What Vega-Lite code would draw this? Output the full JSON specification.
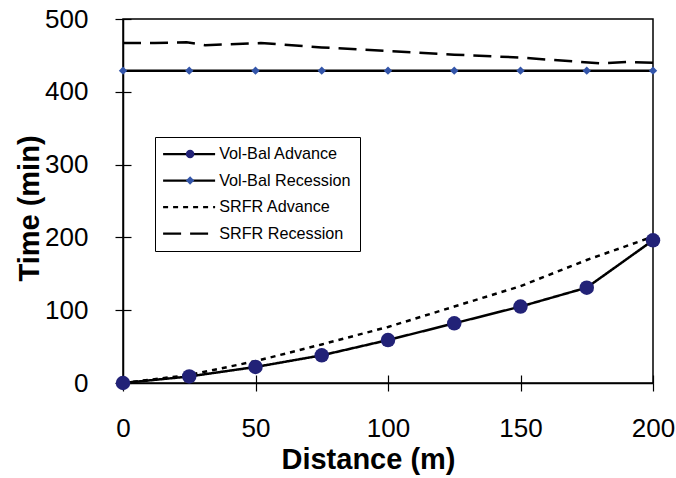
{
  "$schema": "https://vega.github.io/schema/vega-lite/v6.json",
  "width": 530,
  "height": 364,
  "autosize": "none",
  "padding": {"left": 123, "top": 19, "right": 23, "bottom": 95},
  "background": "white",
  "config": {
    "view": {"stroke": "black", "strokeWidth": 1.5},
    "font": "Liberation Sans",
    "axis": {"grid": false, "domainColor": "black", "tickColor": "black", "labelColor": "black", "titleColor": "black", "domainWidth": 1.5, "tickWidth": 1.2, "labelFlush": false}
  },
  "data": {
    "values": [
      {"series": "Vol-Bal Advance", "x": 0, "y": 0},
      {"series": "Vol-Bal Advance", "x": 25, "y": 9},
      {"series": "Vol-Bal Advance", "x": 50, "y": 22},
      {"series": "Vol-Bal Advance", "x": 75, "y": 38},
      {"series": "Vol-Bal Advance", "x": 100, "y": 59},
      {"series": "Vol-Bal Advance", "x": 125, "y": 82},
      {"series": "Vol-Bal Advance", "x": 150, "y": 105},
      {"series": "Vol-Bal Advance", "x": 175, "y": 131},
      {"series": "Vol-Bal Advance", "x": 200, "y": 196},
      {"series": "Vol-Bal Recession", "x": 0, "y": 429},
      {"series": "Vol-Bal Recession", "x": 25, "y": 429},
      {"series": "Vol-Bal Recession", "x": 50, "y": 429},
      {"series": "Vol-Bal Recession", "x": 75, "y": 429},
      {"series": "Vol-Bal Recession", "x": 100, "y": 429},
      {"series": "Vol-Bal Recession", "x": 125, "y": 429},
      {"series": "Vol-Bal Recession", "x": 150, "y": 429},
      {"series": "Vol-Bal Recession", "x": 175, "y": 429},
      {"series": "Vol-Bal Recession", "x": 200, "y": 429},
      {"series": "SRFR Advance", "x": 0, "y": 0},
      {"series": "SRFR Advance", "x": 25, "y": 11},
      {"series": "SRFR Advance", "x": 50, "y": 30},
      {"series": "SRFR Advance", "x": 75, "y": 53},
      {"series": "SRFR Advance", "x": 100, "y": 77},
      {"series": "SRFR Advance", "x": 125, "y": 105},
      {"series": "SRFR Advance", "x": 150, "y": 133},
      {"series": "SRFR Advance", "x": 175, "y": 169},
      {"series": "SRFR Advance", "x": 200, "y": 201},
      {"series": "SRFR Recession", "x": 0, "y": 467},
      {"series": "SRFR Recession", "x": 12, "y": 467},
      {"series": "SRFR Recession", "x": 24, "y": 468},
      {"series": "SRFR Recession", "x": 31, "y": 464},
      {"series": "SRFR Recession", "x": 52, "y": 467},
      {"series": "SRFR Recession", "x": 75, "y": 461},
      {"series": "SRFR Recession", "x": 100, "y": 456},
      {"series": "SRFR Recession", "x": 125, "y": 451},
      {"series": "SRFR Recession", "x": 150, "y": 447},
      {"series": "SRFR Recession", "x": 180, "y": 439},
      {"series": "SRFR Recession", "x": 190, "y": 441},
      {"series": "SRFR Recession", "x": 200, "y": 440}
    ]
  },
  "layer": [
    {
      "mark": {"type": "line", "color": "black", "strokeWidth": 2.5},
      "encoding": {
        "x": {"field": "x", "type": "quantitative", "scale": {"domain": [0, 200], "nice": false},
          "axis": {"values": [0, 50, 100, 150, 200], "tickSize": 8, "labelPadding": 24, "labelFontSize": 26, "labelFont": "Liberation Sans",
            "title": "Distance (m)", "titleFontSize": 29, "titleFontWeight": "bold", "titleFont": "Liberation Sans",
            "titleX": 245, "titleY": 85, "titleBaseline": "alphabetic", "titleAlign": "center", "titleAnchor": null}},
        "y": {"field": "y", "type": "quantitative", "scale": {"domain": [0, 500], "nice": false},
          "axis": {"values": [0, 100, 200, 300, 400, 500], "tickSize": 8, "labelPadding": 27, "labelFontSize": 26, "labelFont": "Liberation Sans",
            "title": "Time (min)", "titleFontSize": 29, "titleFontWeight": "bold", "titleFont": "Liberation Sans",
            "titleX": -85, "titleY": 189, "titleAngle": -90, "titleBaseline": "alphabetic", "titleAlign": "center", "titleAnchor": null}},
        "strokeDash": {"field": "series", "type": "nominal",
          "scale": {"domain": ["Vol-Bal Advance", "Vol-Bal Recession", "SRFR Advance", "SRFR Recession"], "range": [[1, 0], [1, 0], [5, 5], [18, 9]]},
          "legend": {
            "orient": "none", "legendX": 32, "legendY": 118, "title": null, "direction": "vertical",
            "labelFont": "Liberation Sans", "labelFontSize": 16.2, "labelColor": "black", "labelOffset": 39,
            "symbolType": "M-1.8,0L8.6,0", "symbolSize": 100, "symbolStrokeWidth": 2.2, "symbolStrokeColor": "black",
            "strokeColor": "black", "fillColor": "white", "padding": 9, "rowPadding": 9.5, "zindex": 1
          }}
      }
    },
    {
      "transform": [{"filter": "datum.series === 'Vol-Bal Advance'"}],
      "mark": {"type": "point", "filled": true, "size": 210, "opacity": 1},
      "encoding": {
        "x": {"field": "x", "type": "quantitative",
          "axis": {"orient": "bottom", "values": [0, 50, 100, 150, 200], "tickSize": -8, "labels": false, "domain": false, "title": null}},
        "y": {"field": "y", "type": "quantitative",
          "axis": {"orient": "left", "values": [0, 100, 200, 300, 400, 500], "tickSize": -8, "labels": false, "domain": false, "title": null}},
        "shape": {"field": "series", "type": "nominal",
          "scale": {"domain": ["Vol-Bal Advance", "Vol-Bal Recession"], "range": ["circle", "diamond"]},
          "legend": {"orient": "none", "legendX": 50, "legendY": 118, "title": null, "direction": "vertical",
            "labelFont": "Liberation Sans", "labelFontSize": 16.2, "labelColor": "transparent", "labelOffset": 39, "labelExpr": "''",
            "symbolSize": 72, "symbolStrokeWidth": 0, "padding": 9, "rowPadding": 9.5, "zindex": 2}},
        "color": {"field": "series", "type": "nominal",
          "scale": {"domain": ["Vol-Bal Advance", "Vol-Bal Recession"], "range": ["#222277", "#3355aa"]},
          "legend": {"orient": "none", "legendX": 50, "legendY": 118, "title": null, "direction": "vertical",
            "labelFont": "Liberation Sans", "labelFontSize": 16.2, "labelColor": "transparent", "labelOffset": 39, "labelExpr": "''",
            "symbolSize": 72, "symbolStrokeWidth": 0, "padding": 9, "rowPadding": 9.5, "zindex": 2}}
      }
    },
    {
      "transform": [{"filter": "datum.series === 'Vol-Bal Recession'"}],
      "mark": {"type": "point", "filled": true, "shape": "diamond", "size": 70, "color": "#3355aa", "opacity": 1},
      "encoding": {
        "x": {"field": "x", "type": "quantitative", "axis": null},
        "y": {"field": "y", "type": "quantitative", "axis": null}
      }
    }
  ],
  "resolve": {"axis": {"x": "independent", "y": "independent"}}
}
